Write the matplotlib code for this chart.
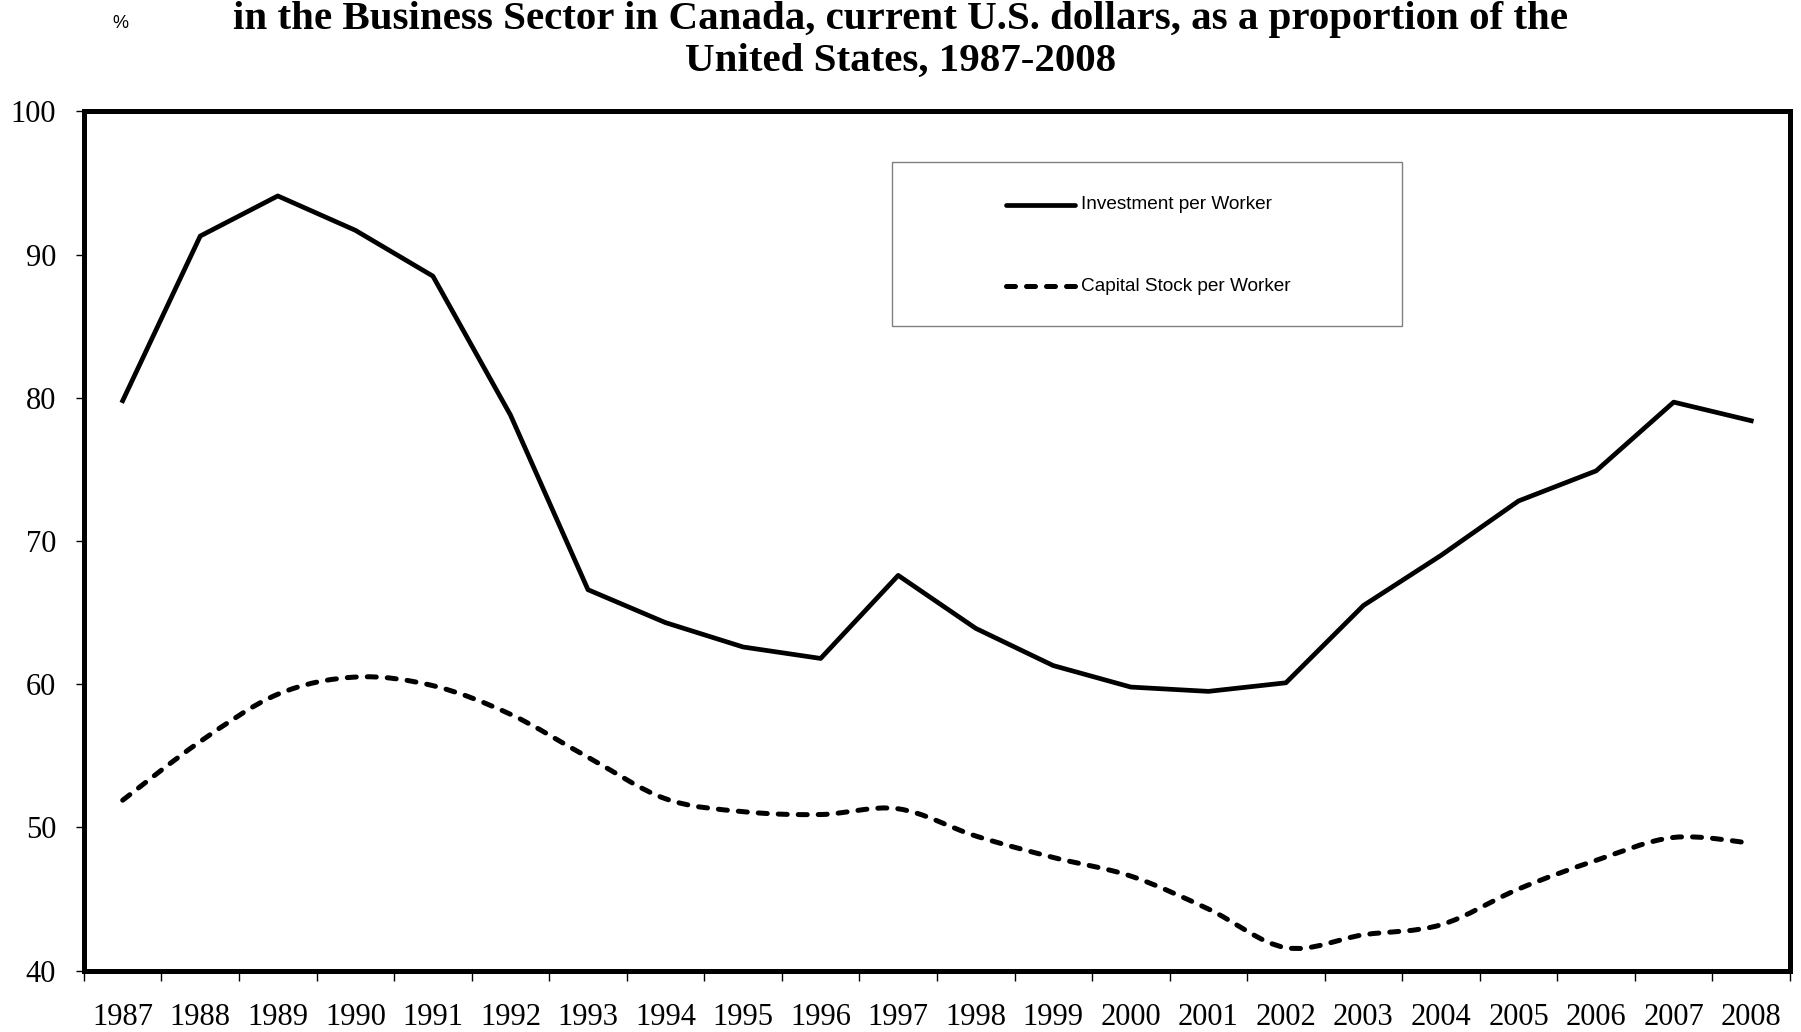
import numpy as np
import matplotlib
matplotlib.use("Agg")
import matplotlib.pyplot as plt
from matplotlib.path import Path
from matplotlib.patches import PathPatch, Rectangle
from matplotlib.lines import Line2D

# Canada as % of US, business sector
years = [str(y) for y in range(1987, 2009)]
investment = [79.8, 91.3, 94.1, 91.7, 88.5, 78.8, 66.6, 64.3, 62.6, 61.8, 67.6,
              63.9, 61.3, 59.8, 59.5, 60.1, 65.5, 69.0, 72.8, 74.9, 79.7, 78.4]
capital = [51.9, 56.0, 59.3, 60.5, 59.9, 57.9, 54.9, 52.0, 51.1, 50.9, 51.3,
           49.4, 47.9, 46.6, 44.3, 41.6, 42.5, 43.2, 45.7, 47.7, 49.3, 48.9]
yticks = [40, 50, 60, 70, 80, 90, 100]

serif = "Liberation Serif"
sans = "Liberation Sans"
dashes = (0, (1.8, 2.2))


def smooth_path(xs, ys):
    # excel-style smoothed line (bezier through every point)
    pts = np.column_stack([xs, ys]).astype(float)
    n = len(pts)
    verts = [pts[0]]
    codes = [Path.MOVETO]
    for i in range(n - 1):
        p0 = pts[i - 1] if i > 0 else pts[i]
        p1 = pts[i]
        p2 = pts[i + 1]
        p3 = pts[i + 2] if i + 2 < n else pts[i + 1]
        verts += [p1 + (p2 - p0) / 6, p2 - (p3 - p1) / 6, p2]
        codes += [Path.CURVE4] * 3
    return Path(verts, codes)


fig = plt.figure(figsize=(18.01, 10.32), dpi=100)
ax = fig.add_axes([0.0466, 0.0595, 0.9473, 0.8325])

x = np.arange(len(years))
ax.plot(x, investment, color="black", lw=3.4, solid_joinstyle="round", zorder=3)
dash = PathPatch(smooth_path(x, capital), fill=False, edgecolor="black", lw=3.6,
                 linestyle=dashes, capstyle="round", zorder=3)
ax.add_patch(dash)

ax.set_xlim(-0.5, len(years) - 0.5)
ax.set_ylim(40, 100)

ax.set_yticks(yticks)
ax.set_yticklabels([str(v) for v in yticks], fontfamily=serif, fontsize=22)
ax.tick_params(axis="y", direction="out", length=6, width=1, pad=14)

# ticks between categories, labels at the centres
ax.set_xticks(np.arange(-0.5, len(years), 1.0))
ax.set_xticklabels([])
ax.set_xticks(x, minor=True)
ax.set_xticklabels(years, minor=True, fontfamily=serif, fontsize=22)
ax.tick_params(axis="x", which="major", direction="out", length=7, width=1)
ax.tick_params(axis="x", which="minor", length=0, pad=23)

for s in ax.spines.values():
    s.set_linewidth(3.6)

# legend box drawn by hand
ax.add_patch(Rectangle((0.4736, 0.75), 0.299, 0.1907, transform=ax.transAxes,
                       facecolor="white", edgecolor="#808080", lw=1, zorder=4))
ax.add_line(Line2D([0.5404, 0.5809], [0.8913, 0.8913], transform=ax.transAxes,
                   color="black", lw=3.4, solid_capstyle="round", zorder=5))
ax.add_line(Line2D([0.5404, 0.5809], [0.7965, 0.7965], transform=ax.transAxes,
                   color="black", lw=3.6, linestyle=dashes,
                   dash_capstyle="round", zorder=5))
ax.text(0.5844, 0.8913, "Investment per Worker", transform=ax.transAxes,
        fontfamily=sans, fontsize=13.7, va="center", zorder=5)
ax.text(0.5844, 0.7965, "Capital Stock per Worker", transform=ax.transAxes,
        fontfamily=sans, fontsize=13.7, va="center", zorder=5)

fig.text(0.5, 1 - 29 / 1032,
         "in the Business Sector in Canada, current U.S. dollars, as a proportion of the",
         ha="center", va="baseline", fontfamily=serif, fontweight="bold", fontsize=29.5)
fig.text(0.5, 1 - 71 / 1032, "United States, 1987-2008",
         ha="center", va="baseline", fontfamily=serif, fontweight="bold", fontsize=29.5)
fig.text(120 / 1801, 1 - 23 / 1032, "%", ha="center", va="center",
         fontfamily=sans, fontsize=13)

fig.savefig("out.png", dpi=100)
